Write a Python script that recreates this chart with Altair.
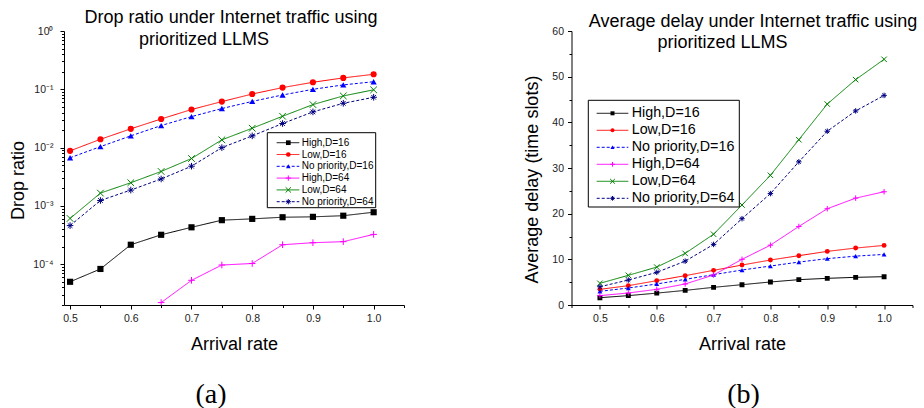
import altair as alt
import pandas as pd

# ---------------- data ----------------
arrival_rate = [0.5, 0.55, 0.6, 0.65, 0.7, 0.75, 0.8, 0.85, 0.9, 0.95, 1.0]
series_names = ["High,D=16", "Low,D=16", "No priority,D=16",
                "High,D=64", "Low,D=64", "No priority,D=64"]

drop_high16 = [5.0e-5, 8.3e-5, 2.16e-4, 3.2e-4, 4.3e-4, 5.7e-4, 6.0e-4, 6.4e-4, 6.5e-4, 6.8e-4, 7.8e-4]
drop_low16 = [0.0088, 0.0139, 0.021, 0.031, 0.045, 0.0616, 0.083, 0.107, 0.132, 0.157, 0.181]
drop_np16 = [0.0067, 0.0104, 0.0159, 0.0239, 0.034, 0.0468, 0.062, 0.080, 0.100, 0.119, 0.135]
drop_high64 = [None, None, None, 2.2e-5, 5.3e-5, 9.7e-5, 1.03e-4, 2.16e-4, 2.34e-4, 2.44e-4, 3.25e-4]
drop_low64 = [6.1e-4, 1.66e-3, 2.5e-3, 3.9e-3, 6.5e-3, 0.0136, 0.0215, 0.0345, 0.0547, 0.077, 0.098]
drop_np64 = [4.6e-4, 1.24e-3, 1.87e-3, 2.9e-3, 4.8e-3, 0.0100, 0.0159, 0.0259, 0.041, 0.0576, 0.073]

delay_high16 = [1.6, 2.05, 2.6, 3.2, 3.87, 4.45, 5.04, 5.55, 5.84, 6.06, 6.2]
delay_low16 = [3.43, 4.23, 5.33, 6.42, 7.59, 8.75, 9.85, 10.8, 11.74, 12.47, 13.05]
delay_np16 = [3.0, 3.72, 4.6, 5.62, 6.64, 7.66, 8.53, 9.4, 10.15, 10.7, 11.08]
delay_high64 = [2.05, 2.63, 3.43, 4.6, 6.57, 10.0, 13.1, 17.2, 21.08, 23.4, 24.8]
delay_low64 = [4.75, 6.5, 8.3, 11.3, 15.5, 21.9, 28.4, 36.2, 44.0, 49.35, 53.8]
delay_np64 = [4.0, 5.47, 7.15, 9.6, 13.27, 18.9, 24.4, 31.35, 38.05, 42.5, 45.9]

title_a = ["Drop ratio under Internet traffic using", "prioritized LLMS"]
title_b = ["Average delay under Internet traffic using", "prioritized LLMS"]
captions = ["(a)", "(b)"]
x_title = "Arrival rate"
y_title_a = "Drop ratio"
y_title_b = "Average delay (time slots)"


def long_table(cols):
    rows = []
    for name, vals in zip(series_names, cols):
        for r, v in zip(arrival_rate, vals):
            if v is not None:
                rows.append({"rate": r, "series": name, "value": v})
    return pd.DataFrame(rows)


drop_df = long_table([drop_high16, drop_low16, drop_np16, drop_high64, drop_low64, drop_np64])
delay_df = long_table([delay_high16, delay_low16, delay_np16, delay_high64, delay_low64, delay_np64])
legend_df = pd.DataFrame({"series": series_names, "idx": list(range(len(series_names)))})

# ---------------- styles ----------------
FONT = "Liberation Sans"
colors = ["#000000", "#FF0000", "#0000FF", "#FF00FF", "#008000", "#000080"]
dashes = [[1, 0], [1, 0], [3, 2], [1, 0], [1, 0], [3, 2]]
star = "M-1,0L1,0M0,-1L0,1M-0.7,-0.7L0.7,0.7M-0.7,0.7L0.7,-0.7"
shapes = ["square", "circle", "triangle-up", "M-1,0L1,0M0,-1L0,1", "M-1,-1L1,1M-1,1L1,-1", star]
filled_series = series_names[:3]
filled_test = "indexof(" + str(filled_series) + ", datum.series) >= 0"

color_scale = alt.Scale(domain=series_names, range=colors)
dash_scale = alt.Scale(domain=series_names, range=dashes)
shape_scale = alt.Scale(domain=series_names, range=shapes)

major_x = "abs(datum.value*10 - round(datum.value*10)) < 1e-6"


def x_axis():
    return alt.Axis(
        values=[0.45, 0.5, 0.55, 0.6, 0.65, 0.7, 0.75, 0.8, 0.85, 0.9, 0.95, 1.0, 1.05],
        labelExpr=major_x + " ? format(datum.value, '.1f') : ''",
        tickSize={"condition": {"test": major_x, "value": 4}, "value": 2.5},
        title=x_title, titleY=44, titleBaseline="alphabetic",
        labelPadding=4, grid=False,
    )


def panel(df, xdomain, width, yscale, yaxis, titles, tpos, caption, cpos, leg, msize):
    x = alt.X("rate:Q", scale=alt.Scale(domain=xdomain, nice=False, zero=False), axis=x_axis())
    yenc = alt.Y("value:Q", scale=yscale, axis=yaxis)
    yenc_noaxis = alt.Y("value:Q", scale=yscale, axis=None)
    col = alt.Color("series:N", scale=color_scale, legend=None)
    shp = alt.Shape("series:N", scale=shape_scale, legend=None)

    lines = alt.Chart(df).mark_line(strokeWidth=1, clip=True).encode(
        x=x, y=yenc, color=col,
        strokeDash=alt.StrokeDash("series:N", scale=dash_scale, legend=None),
    )
    pts_f = alt.Chart(df).transform_filter(filled_test).mark_point(
        filled=True, opacity=1, size=msize[0], clip=True).encode(x=x, y=yenc_noaxis, color=col, shape=shp)
    pts_o = alt.Chart(df).transform_filter("!(" + filled_test + ")").mark_point(
        filled=False, opacity=1, strokeWidth=1, size=msize[1], clip=True).encode(
        x=x, y=yenc_noaxis, color=col, shape=shp)

    # legend
    box = alt.Chart(pd.DataFrame({"b": [0]})).mark_rect(
        fill="white", stroke="black", strokeWidth=1).encode(
        x=alt.value(leg["box"][0]), x2=alt.value(leg["box"][1]),
        y=alt.value(leg["box"][2]), y2=alt.value(leg["box"][3]))
    lbase = alt.Chart(legend_df).transform_calculate(
        ly=f"{leg['row0']} + datum.idx * {leg['step']}")
    ly = alt.Y("ly:Q", scale=None, axis=None)
    lrule = lbase.mark_rule(strokeWidth=1).encode(
        x=alt.value(leg["line"][0]), x2=alt.value(leg["line"][1]), y=ly, color=col,
        strokeDash=alt.StrokeDash("series:N", scale=dash_scale, legend=None))
    lpf = lbase.transform_filter(filled_test).mark_point(
        filled=True, opacity=1, size=leg["msize"][0]).encode(
        x=alt.value(leg["mark"]), y=ly, color=col, shape=shp)
    lpo = lbase.transform_filter("!(" + filled_test + ")").mark_point(
        filled=False, opacity=1, strokeWidth=1, size=leg["msize"][1]).encode(
        x=alt.value(leg["mark"]), y=ly, color=col, shape=shp)
    ltext = lbase.mark_text(align="left", baseline="middle", font=FONT,
                            fontSize=leg["fs"], color="black").encode(
        x=alt.value(leg["text"]), y=ly, text="series:N")

    tl = []
    for t, (tx, ty) in zip(titles, tpos):
        tl.append(alt.Chart(pd.DataFrame({"t": [t]})).mark_text(
            font=FONT, fontSize=18, align="center", baseline="alphabetic", color="black").encode(
            x=alt.value(tx), y=alt.value(ty), text="t:N"))
    cap = alt.Chart(pd.DataFrame({"t": [caption]})).mark_text(
        font="Liberation Serif", fontSize=28, align="center", baseline="alphabetic", color="black").encode(
        x=alt.value(cpos[0]), y=alt.value(cpos[1]), text="t:N")

    return alt.layer(lines, pts_f, pts_o, box, lrule, lpf, lpo, ltext, *tl, cap).resolve_scale(
        y="independent").properties(width=width, height=274)


# left panel: log axis
log_vals = [k * 10.0 ** e for e in range(-5, 0) for k in range(1, 10)] + [1.0]
log_vals = [v for v in log_vals if v >= 2e-5 * 0.999]
major_log = "abs(log(datum.value)/LN10 - round(log(datum.value)/LN10)) < 1e-6"
sup = "['\u2070','\u207b\u00b9','\u207b\u00b2','\u207b\u00b3','\u207b\u2074','\u207b\u2075']"
y_axis_a = alt.Axis(
    values=log_vals,
    labelExpr=major_log + " ? '10' + " + sup + "[-round(log(datum.value)/LN10)] : ''",
    tickSize={"condition": {"test": major_log, "value": 4}, "value": 2.5},
    title=y_title_a, titleX=-45.5, titleY=149, titleBaseline="middle", titleAngle=-90,
    labelPadding=7, grid=False,
)
left = panel(
    drop_df, [0.49, 1.05], 340,
    alt.Scale(type="log", domain=[2e-5, 1], nice=False), y_axis_a,
    title_a, [(167, -8.3), (140, 14)], captions[0], (147, 371.5),
    dict(box=(203.3, 311.7, 101.7, 176.7), row0=111.7, step=11.8,
         line=(212.7, 235.3), mark=224.3, text=237.7, fs=10, msize=(22, 28)),
    (38, 44),
)

major_y = "datum.value % 10 == 0"
y_axis_b = alt.Axis(
    values=list(range(0, 61, 5)),
    labelExpr=major_y + " ? format(datum.value, 'd') : ''",
    tickSize={"condition": {"test": major_y, "value": 4}, "value": 2.5},
    title=y_title_b, titleX=-39, titleY=148, titleBaseline="middle", titleAngle=-90,
    labelPadding=4, grid=False,
)
right = panel(
    delay_df, [0.45, 1.05], 341,
    alt.Scale(domain=[0, 60], nice=False, zero=False), y_axis_b,
    title_b, [(181.5, -4.3), (151, 17.3)], captions[1], (172, 371.5),
    dict(box=(16.8, 167.8, 69.3, 176), row0=82.3, step=17.0,
         line=(25.2, 56.8), mark=41, text=60.2, fs=14.3, msize=(16, 22)),
    (24, 30),
)

chart = alt.hconcat(left, right, spacing=167.5, bounds="flush").configure_view(
    stroke=None
).configure_axis(
    domainColor="black", domainWidth=1, tickColor="black", tickWidth=1,
    labelFont=FONT, labelFontSize=10.5, labelColor="#222222",
    titleFont=FONT, titleFontSize=18, titleFontWeight="normal", titleColor="black",
).properties(padding={"left": 9, "top": 8, "right": 0, "bottom": 0})

chart.save("out.html", embed_options={"renderer": "svg", "actions": False})
